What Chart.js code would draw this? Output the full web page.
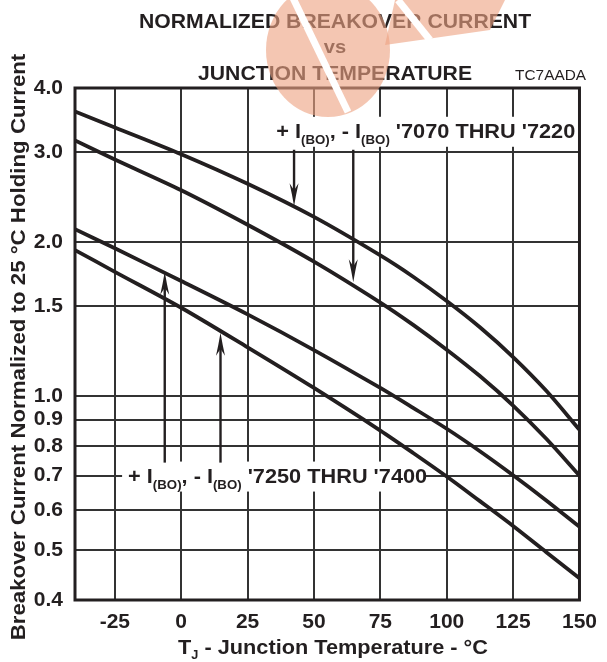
<!DOCTYPE html>
<html><head><meta charset="utf-8">
<script src="https://cdn.jsdelivr.net/npm/chart.js@4/dist/chart.umd.min.js"></script>
<style>html,body{margin:0;padding:0;background:#fff;}#wrap{width:607px;height:662px;}</style>
</head><body><div id="wrap"><canvas id="c" width="607" height="662"></canvas></div>
<script>
// ---- data ----
const temps  = [-40, -25, 0, 25, 50, 75, 87.5, 100, 112.5, 125, 137.5, 150];
const curveA = [3.60, 3.35, 2.97, 2.60, 2.24, 1.884, 1.71, 1.535, 1.364, 1.193, 1.025, 0.86];   // '7070-'7220 upper
const curveB = [3.16, 2.90, 2.526, 2.163, 1.832, 1.524, 1.377, 1.233, 1.095, 0.959, 0.826, 0.70]; // '7070-'7220 lower
const curveC = [2.12, 1.945, 1.679, 1.445, 1.231, 1.038, 0.948, 0.864, 0.781, 0.701, 0.626, 0.556]; // '7250-'7400 upper
const curveD = [1.93, 1.75, 1.489, 1.246, 1.038, 0.857, 0.774, 0.697, 0.624, 0.558, 0.496, 0.441]; // '7250-'7400 lower
const xTicks = [-25, 0, 25, 50, 75, 100, 125, 150];
const yTicks = [0.4, 0.5, 0.6, 0.7, 0.8, 0.9, 1.0, 1.5, 2.0, 3.0, 4.0];
const titleLines = ['NORMALIZED BREAKOVER CURRENT', 'vs', 'JUNCTION TEMPERATURE'];
const figCode = 'TC7AADA';
const xTitle = ['T', 'J', ' - Junction Temperature - \u00B0C'];
const yTitle = 'Breakover Current Normalized to 25 \u00B0C Holding Current';
const label1 = ["'7070 THRU '7220"];
const label2 = ["'7250 THRU '7400"];
// annotation anchors in data units: [temperature, value]
const label1Pos = [35.8, 3.30];
const label2Pos = [-20.0, 0.70];
const arrows = [ // [temp, fromValue, tipValue]
  [42.5, 3.03, 2.35],
  [64.8, 3.03, 1.67],
  [-6.2, 0.742, 1.75],
  [14.8, 0.742, 1.33]
];

const INK = '#231f20';
const FF = '"Liberation Sans", Arial, Helvetica, sans-serif';
const STRETCH = 1.06;

function richText(ctx, parts, x, y, align) {
  let w = 0;
  parts.forEach(p => { ctx.font = p.font; p.w = ctx.measureText(p.t).width; w += p.w; });
  const total = w * STRETCH;
  const start = align === 'center' ? x - total / 2 : align === 'right' ? x - total : x;
  ctx.save();
  ctx.translate(start, y); ctx.scale(STRETCH, 1);
  ctx.textAlign = 'left'; ctx.textBaseline = 'alphabetic'; ctx.fillStyle = INK;
  let cx = 0;
  parts.forEach(p => { ctx.font = p.font; ctx.fillText(p.t, cx, p.dy || 0); cx += p.w; });
  ctx.restore();
  return total;
}
function ibLabel(tail) {
  const M = 'bold 20.5px ' + FF, S = 'bold 12.5px ' + FF;
  return [
    {t: '+ I', font: M}, {t: '(BO)', font: S, dy: 6}, {t: ', - I', font: M},
    {t: '(BO)', font: S, dy: 6}, {t: ' ' + tail, font: M}
  ];
}

const annot = {
  id: 'annot',
  beforeDatasetsDraw(chart) {
    const ctx = chart.ctx, xs = chart.scales.x, ys = chart.scales.y;
    ctx.save();
    const boxes = [[label1Pos, label1[0]], [label2Pos, label2[0]]];
    boxes.forEach(([pos, tail]) => {
      const px = xs.getPixelForValue(pos[0]), py = ys.getPixelForValue(pos[1]);
      const parts = ibLabel(tail);
      let w = 0; parts.forEach(p => { ctx.font = p.font; w += ctx.measureText(p.t).width; });
      w *= STRETCH;
      ctx.fillStyle = '#fff';
      ctx.fillRect(px - 6, py - 14, w + 4, 30);
      richText(ctx, parts, px, py + 7, 'left');
    });
    ctx.strokeStyle = INK; ctx.fillStyle = INK; ctx.lineWidth = 2.4;
    arrows.forEach(([t, v0, v1]) => {
      const x = xs.getPixelForValue(t), y0 = ys.getPixelForValue(v0), y1 = ys.getPixelForValue(v1);
      const dir = y1 > y0 ? 1 : -1;
      ctx.beginPath(); ctx.moveTo(x, y0); ctx.lineTo(x, y1 - dir * 14); ctx.stroke();
      ctx.beginPath();
      ctx.moveTo(x, y1);
      ctx.quadraticCurveTo(x - 2, y1 - dir * 12, x - 4.5, y1 - dir * 23);
      ctx.lineTo(x, y1 - dir * 16);
      ctx.lineTo(x + 4.5, y1 - dir * 23);
      ctx.quadraticCurveTo(x + 2, y1 - dir * 12, x, y1);
      ctx.closePath(); ctx.fill();
    });
    ctx.restore();
  },
  afterDraw(chart) {
    const ctx = chart.ctx, a = chart.chartArea;
    ctx.save();
    ctx.strokeStyle = INK; ctx.lineWidth = 3;
    ctx.strokeRect(a.left, a.top, a.right - a.left, a.bottom - a.top);
    const T = 'bold 20px ' + FF;
    const cx = 335;
    richText(ctx, [{t: titleLines[0], font: T}], cx, 28, 'center');
    richText(ctx, [{t: titleLines[1], font: 'bold 19px ' + FF}], cx, 53, 'center');
    richText(ctx, [{t: titleLines[2], font: T}], cx, 80, 'center');
    richText(ctx, [{t: figCode, font: '14.5px ' + FF}], 586, 80, 'right');
    const XT = 'bold 20.5px ' + FF;
    richText(ctx, [{t: xTitle[0], font: XT}, {t: xTitle[1], font: 'bold 12px ' + FF, dy: 5}, {t: xTitle[2], font: XT}], 333, 654, 'center');
    ctx.save();
    ctx.translate(25, 347); ctx.rotate(-Math.PI / 2);
    richText(ctx, [{t: yTitle, font: 'bold 21px ' + FF}], 0, 0, 'center');
    ctx.restore();
    // translucent watermark stamp over the header (decorative)
    ctx.save();
    ctx.beginPath(); ctx.rect(0, 0, 607, 120); ctx.clip();
    ctx.fillStyle = 'rgba(237,163,130,0.62)';
    ctx.beginPath(); ctx.ellipse(328, 50, 62, 67, 0, 0, Math.PI * 2); ctx.fill();
    ctx.beginPath();
    ctx.moveTo(385, 45); ctx.lineTo(395, 0); ctx.lineTo(505, 0); ctx.lineTo(490, 30); ctx.closePath(); ctx.fill();
    ctx.strokeStyle = '#fff'; ctx.lineWidth = 7;
    ctx.beginPath(); ctx.moveTo(293, -2); ctx.lineTo(348, 112); ctx.stroke();
    ctx.beginPath(); ctx.moveTo(398, 0); ctx.lineTo(430, 40); ctx.stroke();
    ctx.restore();
    ctx.restore();
  }
};

const mk = (d) => ({
  data: temps.map((t, i) => ({x: t, y: d[i]})),
  borderColor: INK, borderWidth: 3.8, pointRadius: 0, fill: false, tension: 0.3
});

new Chart(document.getElementById('c'), {
  type: 'line',
  data: { datasets: [mk(curveA), mk(curveB), mk(curveC), mk(curveD)] },
  options: {
    responsive: false, animation: false, devicePixelRatio: 1,
    layout: { padding: { top: 88, right: 21, left: 0, bottom: 0 } },
    plugins: { legend: { display: false }, tooltip: { enabled: false }, title: { display: false } },
    scales: {
      x: {
        type: 'linear', min: -40, max: 150,
        afterBuildTicks: s => { s.ticks = xTicks.map(v => ({value: v})); },
        afterFit: s => { s.height = 62; },
        grid: { color: '#333', lineWidth: 2, drawTicks: false },
        border: { display: false },
        ticks: { color: INK, font: { family: FF, size: 21, weight: 'bold' }, padding: 10, maxRotation: 0, autoSkip: false }
      },
      y: {
        type: 'logarithmic', min: 0.4, max: 4.0,
        afterBuildTicks: s => { s.ticks = yTicks.map(v => ({value: v})); },
        afterFit: s => { s.width = 75; },
        grid: { color: '#333', lineWidth: 2, drawTicks: false },
        border: { display: false },
        ticks: { color: INK, font: { family: FF, size: 21, weight: 'bold' }, padding: 12, autoSkip: false,
                 callback: v => Number(v).toFixed(1) }
      }
    }
  },
  plugins: [annot]
});
</script></body></html>
